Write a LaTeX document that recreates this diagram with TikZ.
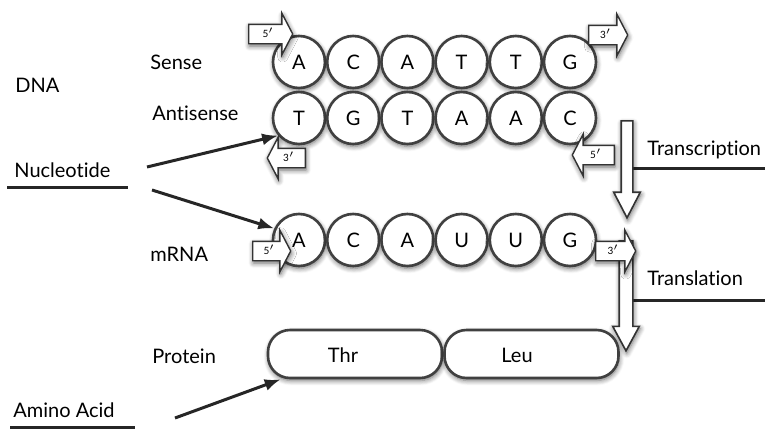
\documentclass[tikz,border=0pt]{standalone}
\usepackage{fontspec}
\setmainfont{Lato}[Ligatures=NoCommon]
\usetikzlibrary{shapes.arrows,shadows.blur,arrows.meta,backgrounds}

\begin{document}
\begin{tikzpicture}[x=0.5pt,y=-0.5pt,
    soft/.style={blur shadow={shadow xshift=0.4pt,shadow yshift=-1.2pt,shadow blur radius=2.5pt,shadow blur steps=6,shadow opacity=60}},
    lbl/.style={anchor=base west,inner sep=0pt,font=\fontsize{10}{12}\selectfont},
    base/.style={circle,draw=black!75,line width=1.3pt,fill=white,minimum size=26pt,inner sep=0pt,soft,font=\fontsize{10}{12}\selectfont},
    tag/.style={single arrow,draw=black!80,line width=0.7pt,fill=white,soft,anchor=tail,font=\fontsize{5}{5}\selectfont,text height=3.4pt,text depth=0pt,inner xsep=1pt,inner ysep=2.8pt,single arrow head extend=5.5pt,single arrow tip angle=125},
    bigarrow/.style={single arrow,draw=black!80,line width=0.8pt,fill=white,soft,anchor=tail,shape border rotate=270},
    aabox/.style={draw=black!75,line width=1.3pt,fill=white,rounded corners=11pt,minimum width=87pt,minimum height=24pt,soft},
    ptr/.style={-{Latex[length=8pt,width=6pt]},line width=1.5pt,draw=black!85},
    hline/.style={line width=1.5pt,draw=black!85}]
    \useasboundingbox (0,0) rectangle (765,429);

    \node[lbl] (dna) at (15,92) {DNA};
    \node[lbl] (sense) at (150,69) {Sense};
    \node[lbl] (anti) at (152,120) {Antisense};
    \node[lbl] (nucl) at (14,177) {Nucleotide};
    \node[lbl] (mrna) at (150,261) {mRNA};
    \node[lbl] (prot) at (152,363) {Protein};
    \node[lbl] (amino) at (13,417) {Amino Acid};
    \node[lbl] (trtxt) at (647,155) {Transcription};
    \node[lbl] (tltxt) at (647,285) {Translation};

    \node[bigarrow,minimum height=48.5pt,inner sep=2.5pt,single arrow head extend=3.75pt,single arrow tip angle=55] (transcr) at (627,120) {};
    \node[bigarrow,minimum height=55pt,inner sep=3pt,single arrow head extend=3.25pt,single arrow tip angle=57] (transl) at (626,240) {};

    \foreach \b [count=\i] in {A,C,A,T,T,G}
        \node[base] (s\i) at ({299+54.2*(\i-1)},62) {\b};
    \foreach \b [count=\i] in {T,G,T,A,A,C}
        \node[base] (a\i) at ({299+54.2*(\i-1)},118) {\b};
    \foreach \b [count=\i] in {A,C,A,U,U,G}
        \node[base] (m\i) at ({299+54.2*(\i-1)},240) {\b};

    \node[tag,minimum height=22pt] (sFive) at (248,34) {5$'$};
    \node[tag,minimum height=19.5pt] (sThree) at (588,35) {3$'$};
    \node[tag,shape border rotate=180,minimum height=19pt] (aThree) at (306,158) {3$'$};
    \node[tag,shape border rotate=180,minimum height=21pt] (aFive) at (615,155) {5$'$};
    \node[tag,minimum height=19pt] (mFive) at (252,251) {5$'$};
    \node[tag,minimum height=20pt] (mThree) at (595,251) {3$'$};

    \node[aabox] (thr) at (355,354) {};
    \node[aabox] (leu) at (531.5,354) {};
    \node[font=\fontsize{10}{12}\selectfont,inner sep=0pt] (thrtxt) at (343,355) {Thr};
    \node[font=\fontsize{10}{12}\selectfont,inner sep=0pt] (leutxt) at (517,355) {Leu};

    \coordinate (nuA) at (147,167);
    \coordinate (nuB) at (152,190);
    \coordinate (aaA) at (175,418);
    \draw[ptr] (nuA) -- (a1.220);
    \draw[ptr] (nuB) -- (m1.155);
    \draw[ptr] (aaA) -- ([xshift=7pt]thr.south west);

    \draw[hline] (7,187) -- (128,187);
    \draw[hline] (10,427) -- (135,427);

    \coordinate (trEnd) at (765,168);
    \coordinate (tlEnd) at (765,300);
    \begin{pgfonlayer}{background}
    \draw[hline] (trEnd) -- (trEnd -| transcr.center);
    \draw[hline] (tlEnd) -- (tlEnd -| transl.center);
    \end{pgfonlayer}
\end{tikzpicture}
\end{document}
